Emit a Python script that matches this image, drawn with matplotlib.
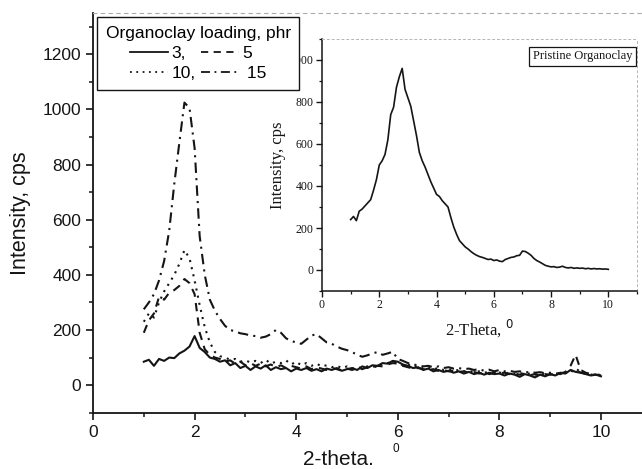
import numpy as np
import matplotlib
matplotlib.use("Agg")
import matplotlib.pyplot as plt
from matplotlib.lines import Line2D
from matplotlib.ticker import MultipleLocator

# 2-theta grid shared by all curves (degrees)
two_theta = np.round(np.arange(1.0, 10.01, 0.1), 1)

# intensities, cps
phr3 = [85, 92, 70, 95, 88, 100, 98, 115, 125, 140,
        178, 135, 120, 100, 95, 85, 90, 72, 80, 62,
        70, 55, 68, 60, 72, 55, 65, 58, 62, 50,
        60, 55, 62, 52, 58, 50, 60, 55, 62, 52,
        58, 62, 55, 68, 62, 72, 70, 80, 78, 88,
        85, 75, 70, 62, 65, 55, 60, 50, 55, 48,
        52, 45, 50, 42, 48, 40, 45, 38, 45, 40,
        42, 35, 42, 38, 30, 40, 35, 28, 38, 32,
        40, 35, 45, 42, 55, 48, 45, 40, 35, 38, 32]
phr5 = [190, 235, 260, 320, 310, 335, 345, 360, 385, 370,
        330, 190, 130, 110, 100, 95, 85, 90, 78, 85,
        72, 80, 70, 78, 68, 75, 65, 72, 62, 70,
        65, 60, 68, 58, 65, 60, 55, 62, 58, 52,
        60, 55, 62, 58, 65, 62, 70, 68, 75, 80,
        78, 70, 65, 60, 62, 58, 55, 58, 52, 55,
        50, 52, 48, 50, 45, 48, 42, 46, 40, 44,
        42, 45, 40, 42, 38, 42, 36, 40, 35, 40,
        38, 42, 40, 48, 70, 110, 55, 45, 40, 38, 35]
phr10 = [230, 260, 245, 300, 340, 370, 400, 440, 490, 460,
         380, 290, 210, 155, 120, 105, 100, 92, 95, 85,
         90, 82, 88, 80, 92, 78, 85, 80, 90, 75,
         85, 72, 80, 70, 78, 68, 72, 65, 70, 62,
         68, 60, 65, 62, 68, 65, 72, 75, 80, 85,
         80, 72, 75, 65, 70, 60, 65, 58, 62, 55,
         58, 52, 55, 50, 52, 48, 50, 45, 48, 44,
         46, 42, 45, 40, 44, 40, 42, 38, 42, 38,
         40, 38, 42, 45, 50, 60, 48, 42, 38, 40, 36]
phr15 = [275, 300, 330, 380, 450, 560, 730, 880, 1025, 1005,
         860, 540, 400, 310, 270, 240, 215, 200, 195, 188,
         185, 180, 178, 172, 176, 185, 200, 190, 170, 160,
         155, 150, 165, 180, 185, 170, 155, 150, 140, 132,
         127, 120, 110, 103, 108, 115, 120, 110, 115, 121,
         95, 88, 80, 75, 72, 68, 70, 65, 68, 62,
         65, 60, 62, 58, 60, 55, 58, 52, 56, 50,
         55, 50, 52, 48, 50, 46, 48, 45, 47, 43,
         45, 42, 44, 45, 48, 55, 45, 42, 40, 38, 36]

# inset: pristine organoclay
pristine = [240, 255, 235, 280, 290, 305, 320, 335, 380, 430,
            500, 520, 550, 620, 740, 775, 870, 920, 960, 860,
            820, 780, 710, 640, 560, 520, 490, 455, 420, 390,
            360, 350, 330, 315, 300, 250, 205, 170, 140, 125,
            110, 100, 88, 78, 70, 64, 60, 55, 50, 52,
            45, 48, 42, 40, 50, 55, 60, 62, 68, 70,
            90, 88, 80, 70, 55, 45, 38, 30, 22, 18,
            15, 16, 12, 14, 18, 12, 10, 12, 8, 10,
            8, 9, 6, 8, 5, 7, 5, 6, 4, 5, 3]

sans = "Liberation Sans"
serif = "Liberation Serif"
ink = "#151515"

fig = plt.figure(figsize=(6.42, 4.69), dpi=100)
ax = fig.add_axes([93 / 642, (469 - 412.7) / 469, 549 / 642, 399.7 / 469])

ax.plot(two_theta, phr3, color=ink, lw=1.5, ls="-")
ax.plot(two_theta, phr5, color=ink, lw=1.5, ls=(0, (4, 3)))
ax.plot(two_theta, phr10, color=ink, lw=1.5, ls=(0, (1, 2.5)))
ax.plot(two_theta, phr15, color=ink, lw=1.5, ls=(0, (5, 2.5, 1, 2.5)))

ax.set_xlim(0, 549 / 50.8)
ax.set_ylim(-100, 1350)
ax.xaxis.set_major_locator(MultipleLocator(2))
ax.xaxis.set_minor_locator(MultipleLocator(1))
ax.yaxis.set_major_locator(MultipleLocator(200))
ax.yaxis.set_minor_locator(MultipleLocator(100))
ax.tick_params(which="major", direction="out", length=5, width=1.2, labelsize=12.5,
               colors=ink)
ax.tick_params(which="minor", direction="out", length=3, width=1.1, colors=ink)
for lab in ax.get_xticklabels() + ax.get_yticklabels():
    lab.set_fontfamily(sans)
ax.set_yticks([0, 200, 400, 600, 800, 1000, 1200])
ax.spines["left"].set_linewidth(1.3)
ax.spines["bottom"].set_linewidth(1.3)
ax.spines["left"].set_color(ink)
ax.spines["bottom"].set_color(ink)
ax.spines["right"].set_visible(False)
ax.spines["top"].set_color("#aaaaaa")
ax.spines["top"].set_linewidth(0.8)
ax.spines["top"].set_linestyle((0, (3, 4)))

ax.set_ylabel("Intensity, cps", fontsize=15.5, family=sans, color=ink, labelpad=8)
fig.text(338 / 642, 1 - 459 / 469, "2-theta.", fontsize=15, family=sans,
         color=ink, ha="center", va="center")
fig.text(396 / 642, 1 - 449 / 469, "0", fontsize=8.5, family=sans,
         color=ink, ha="center", va="center")

# inset
axi = fig.add_axes([322 / 642, (469 - 291) / 469, 315 / 642, 252 / 469])
axi.plot(two_theta, pristine, color=ink, lw=1.2)
axi.set_xlim(0, 11)
axi.set_ylim(-100, 1100)
axi.set_xticks([0, 2, 4, 6, 8, 10])
axi.xaxis.set_minor_locator(MultipleLocator(1))
axi.set_yticks([0, 200, 400, 600, 800, 1000])
axi.yaxis.set_minor_locator(MultipleLocator(100))
axi.tick_params(which="major", direction="out", length=4, width=1, labelsize=8.5,
                colors=ink, pad=2)
axi.tick_params(which="minor", direction="out", length=2.5, width=0.9, colors=ink)
for lab in axi.get_xticklabels() + axi.get_yticklabels():
    lab.set_fontfamily(serif)
for side in ["left", "bottom"]:
    axi.spines[side].set_color(ink)
    axi.spines[side].set_linewidth(1.1)
for side in ["top", "right"]:
    axi.spines[side].set_color("#b5b5b5")
    axi.spines[side].set_linewidth(0.7)
    axi.spines[side].set_linestyle((0, (2, 3)))
axi.set_ylabel("Intensity, cps", fontsize=12, family=serif, color=ink, labelpad=3)
axi.set_xlabel("2-Theta, $^{0}$", fontsize=12, family=serif, color=ink, labelpad=4)
axi.text(0.985, 0.955, "Pristine Organoclay", transform=axi.transAxes, ha="right",
         va="top", fontsize=9, family=serif, color=ink,
         bbox=dict(boxstyle="square,pad=0.3", fc="white", ec=ink, lw=0.9))

# legend drawn on top of both axes
handles = [
    Line2D([], [], color=ink, lw=1.3, ls="-"),
    Line2D([], [], color=ink, lw=1.3, ls=(0, (1, 2.5))),
    Line2D([], [], color=ink, lw=1.3, ls=(0, (4, 3))),
    Line2D([], [], color=ink, lw=1.3, ls=(0, (5, 2.5, 1, 2.5))),
]
labels = ["3,", "10,", "5", " 15"]
leg = fig.legend(handles, labels, ncol=2, loc="upper left",
                 bbox_to_anchor=(97 / 642, 1 - 17 / 469), borderaxespad=0,
                 title="Organoclay loading, phr", fontsize=12.5, title_fontsize=12.5,
                 frameon=True, fancybox=False, edgecolor=ink, framealpha=1,
                 handlelength=2.2, handletextpad=0.2, columnspacing=0.3,
                 labelspacing=0.3, borderpad=0.5, prop={"family": sans, "size": 12.5})
leg.get_title().set_family(sans)
leg.get_frame().set_linewidth(1.0)
leg.set_zorder(10)

fig.savefig("out.png", dpi=100)
